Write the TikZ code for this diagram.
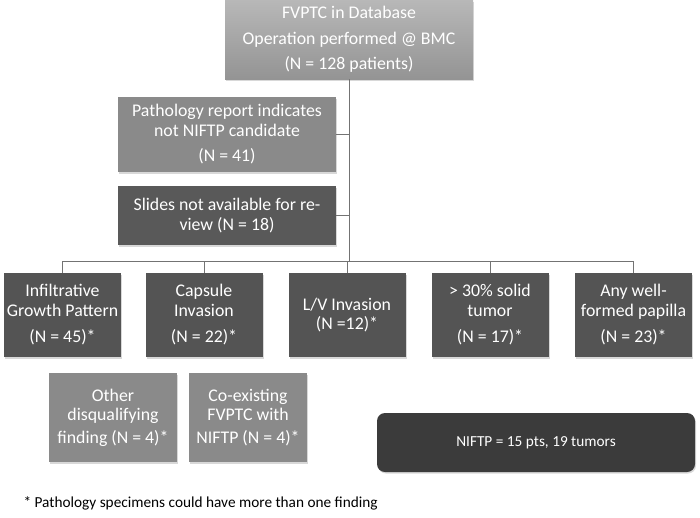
\documentclass[tikz,border=0pt]{standalone}
\usepackage{fontspec}
\setmainfont{Carlito}
\usetikzlibrary{shadows}

\tikzset{
    box/.style={draw=none, text=white, align=center, inner sep=1pt,
        font=\fontsize{17.8}{19.5}\selectfont,
        drop shadow={opacity=0.3, shadow xshift=1pt, shadow yshift=-1.5pt}},
    finding/.style={box, fill=black!67, minimum width=117, minimum height=84},
    link/.style={draw=black!55, line width=1pt},
}

\begin{document}
\begin{tikzpicture}[x=1pt, y=-1pt]
    \useasboundingbox (0,0) rectangle (700,517);
    \fill[white] (0,0) rectangle (700,517);

    % Cabeza
    \node[box, top color=black!28, bottom color=black!42, minimum width=248, minimum height=79]
        (db) at (349,39.5) {FVPTC in Database\\[6pt]Operation performed @ BMC\\[6pt](N = 128 patients)};
    \node[box, fill=black!46, minimum width=218, minimum height=75]
        (report) at (227,134.5) {Pathology report indicates\\not NIFTP candidate\\[6pt](N = 41)};
    \node[box, fill=black!65, minimum width=218, minimum height=59]
        (slides) at (227,215.5) {Slides not available for re-\\view (N = 18)};
    \coordinate (bus) at (349,261);

    % Hallazgos
    \node[finding] (infil) at (62.5,315) {Infiltrative\\Growth Pattern\\[7pt](N = 45)*};
    \node[finding] (capsule) at (204,315) {Capsule\\Invasion\\[7pt](N = 22)*};
    \node[finding] (lv) at (347,315) {L/V Invasion\\(N =12)*};
    \node[finding] (solid) at (490,315) {> 30\% solid\\tumor\\[7pt](N = 17)*};
    \node[finding] (papilla) at (633.5,315) {Any well-\\formed papilla\\[7pt](N = 23)*};

    % Otros
    \node[box, fill=black!46, minimum width=128, minimum height=89]
        (other) at (113,417.5) {Other\\disqualifying\\[3pt]finding (N = 4)*};
    \node[box, fill=black!46, minimum width=118, minimum height=89]
        (coexist) at (248,417.5) {Co-existing\\FVPTC with\\[3pt]NIFTP (N = 4)*};
    \node[box, fill=black!77, rounded corners=8pt, minimum width=318, minimum height=59,
        font=\fontsize{15.3}{18}\selectfont] (niftp) at (536,442.5) {NIFTP = 15 pts, 19 tumors};

    % Conectores
    \draw[link] (db.south) -- (db.south |- bus);
    \draw[link] (report.east) -- (report.east -| db.south);
    \draw[link] (slides.east) -- (slides.east -| db.south);
    \draw[link] (infil.north |- bus) -- (papilla.north |- bus);
    \foreach \f in {infil,capsule,lv,solid,papilla}
        \draw[link] (\f.north |- bus) -- (\f.north);

    \node[anchor=west, font=\fontsize{15.3}{18}\selectfont] (note) at (20,503)
        {* Pathology specimens could have more than one finding};
\end{tikzpicture}
\end{document}
